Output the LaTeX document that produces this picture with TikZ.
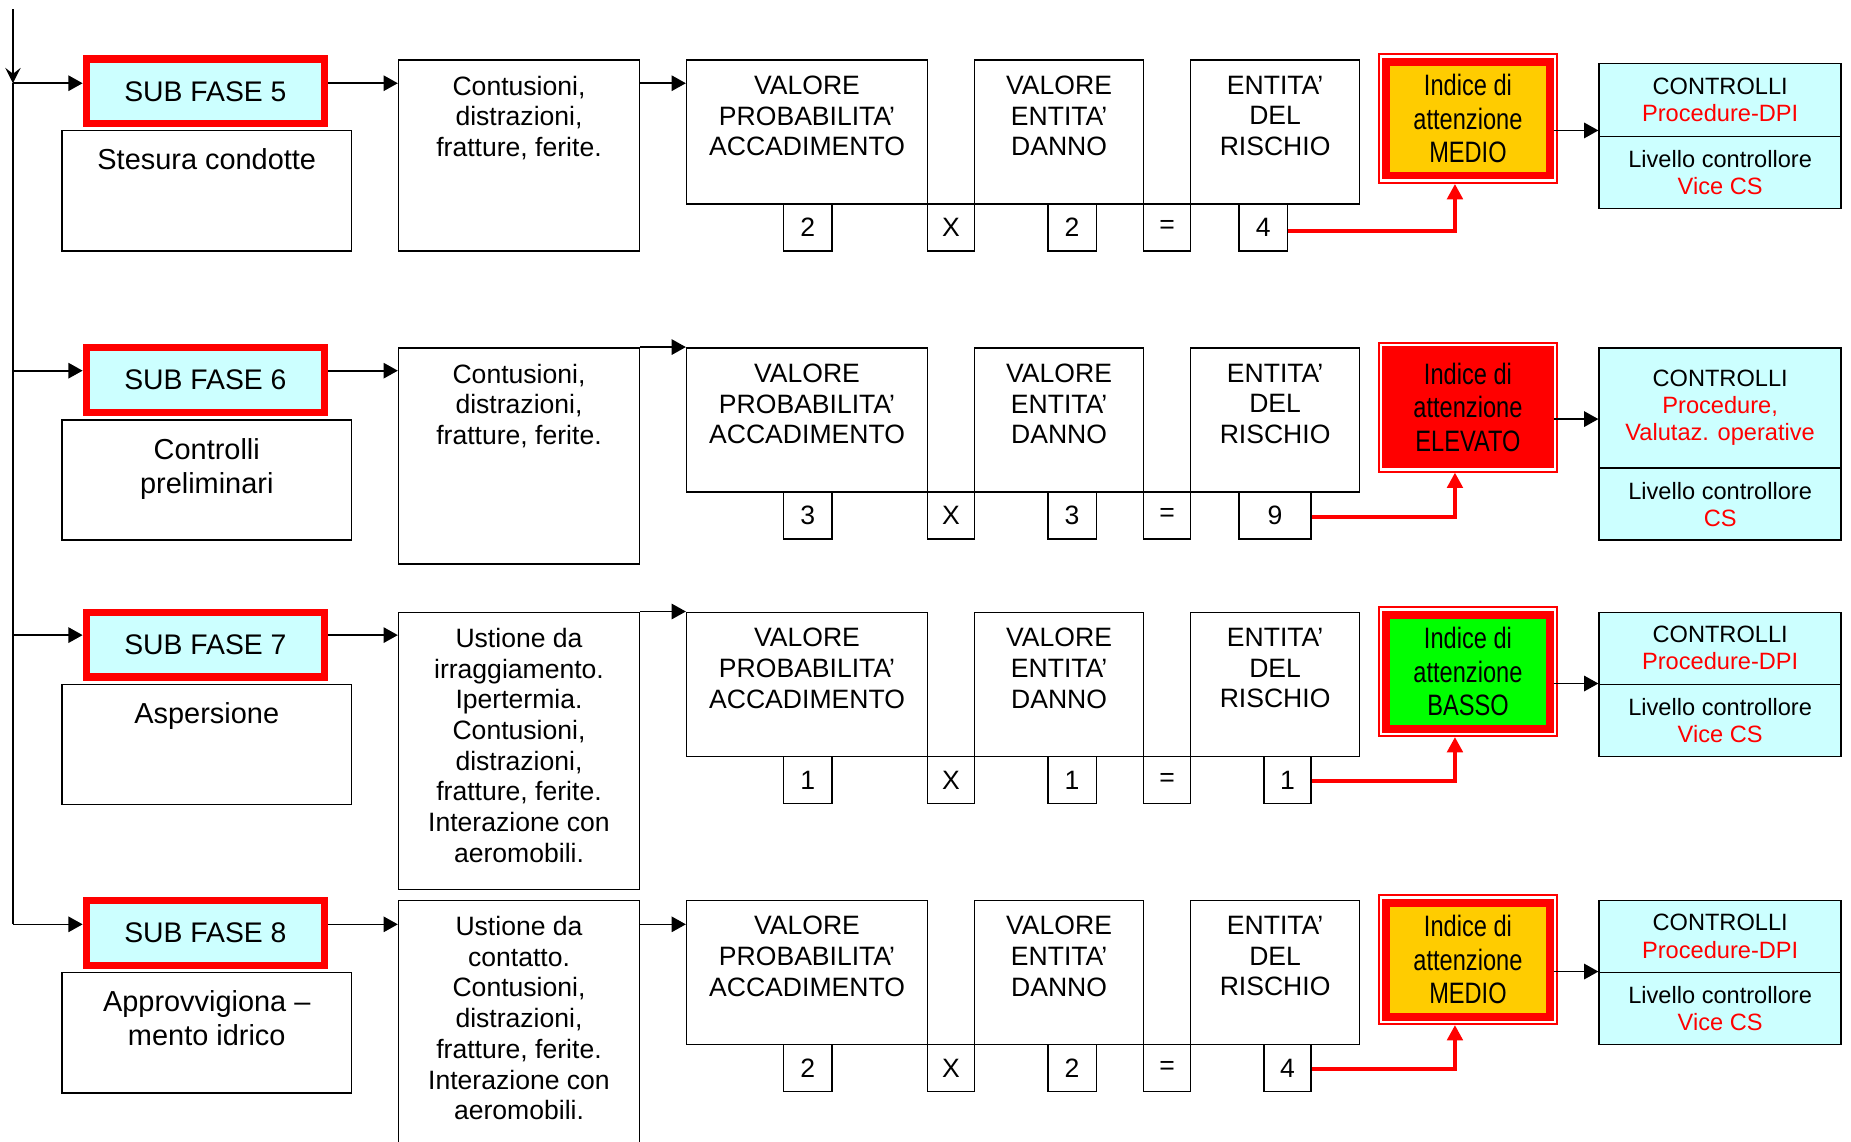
\documentclass[tikz,border=0pt]{standalone}
\usepackage{fontspec}
\setmainfont{Liberation Sans}
\newfontfamily\narrowfont[FakeStretch=0.8]{Liberation Sans}
\usetikzlibrary{arrows.meta,positioning}
\definecolor{lightcyan}{HTML}{CCFFFF}
\definecolor{gold}{HTML}{FFCC00}
\definecolor{brightgreen}{HTML}{00FF00}

\tikzset{
  box/.style={draw, line width=1.3pt, anchor=north west, inner sep=0pt},
  subbox/.style={draw=red, line width=6pt, fill=lightcyan, minimum width=202pt, minimum height=55pt, font=\fontsize{24}{28}\selectfont},
  dtext/.style={anchor=north, align=center, inner sep=0pt, font=\fontsize{24.5}{29}\selectfont},
  htext/.style={anchor=north, align=center, inner sep=0pt, font=\fontsize{22.5}{26}\selectfont},
  numbox/.style={box, minimum width=41pt, minimum height=40pt, font=\fontsize{22.5}{26}\selectfont},
  iframe/.style={draw=red, line width=1.6pt, fill=white, minimum width=151pt, minimum height=109pt},
  ibox/.style={draw=red, line width=6.5pt, minimum width=138.5pt, minimum height=96.5pt, align=center, inner sep=0pt, font=\narrowfont\fontsize{25}{28.5}\selectfont},
  cbox/.style={box, fill=lightcyan, minimum width=205pt, align=center, font=\fontsize{20}{23}\selectfont},
  arr/.style={-{Triangle[length=12pt,width=13pt]}, line width=1.4pt},
  openarr/.style={-{Stealth[length=13pt,width=13pt,inset=5pt]}, line width=1.4pt},
  rline/.style={red, line width=3.5pt, -{Triangle[length=13pt,width=13pt]}}
}

\begin{document}
\begin{tikzpicture}[x=1pt, y=-1pt]
 \useasboundingbox (0,0) rectangle (1568,967);
 \coordinate (top) at (11,8);
 \coordinate (v5) at (11,70.5);
 \coordinate (v6) at (11,314);
 \coordinate (v7) at (11,538);
 \coordinate (v8) at (11,783);
 \draw[openarr] (top) -- (v5);
 \draw[line width=1.4pt] (v5) -- (v8);

 \node[subbox] (sf5) at (174,77.5) {SUB FASE 5};
 \node[box, minimum width=245pt, minimum height=102pt] (d5) at (52,110) {};
 \node[dtext] (d5t) at ([yshift=-16pt]d5.north) {Stesura condotte};
 \node[box, minimum width=204pt, minimum height=162pt] (h5) at (337,50) {};
 \node[htext] (h5t) at ([yshift=-14pt]h5.north) {Contusioni,\\distrazioni,\\fratture, ferite.};
 \node[box, minimum width=204pt, minimum height=122pt] (p5) at (581,50) {};
 \node[htext] (p5t) at ([yshift=-14pt]p5.north) {VALORE\\PROBABILITA’\\ACCADIMENTO};
 \node[box, minimum width=143pt, minimum height=122pt] (e5) at (825,50) {};
 \node[htext] (e5t) at ([yshift=-14pt]e5.north) {VALORE\\ENTITA’\\DANNO};
 \node[box, minimum width=143pt, minimum height=122pt] (r5) at (1008,50) {};
 \node[htext] (r5t) at ([yshift=-14pt]r5.north) {ENTITA’\\DEL\\RISCHIO};
 \node[numbox] (pn5) at (663,172) {2};
 \node[numbox, minimum width=40pt] (x5) at (785,172) {X};
 \node[numbox] (en5) at (887,172) {2};
 \node[numbox, minimum width=40pt] (eq5) at (968,172) {=};
 \node[numbox] (rn5) at (1049,172) {4};
 \node[iframe] (i5f) at (1243.5,100.5) {};
 \node[ibox, fill=gold] (i5) at (i5f.center) {Indice di\\attenzione\\MEDIO};
 \node[cbox, minimum height=62pt] (c5) at (1354,53) {CONTROLLI\\\textcolor{red}{Procedure-DPI}};
 \node[cbox, minimum height=61pt] (l5) at (1354,115) {Livello controllore\\\textcolor{red}{Vice CS}};
 \coordinate (a5) at ([yshift=-10pt]i5.east);
 \draw[arr] (v5) -- (sf5.west |- v5);
 \draw[arr] (sf5.east |- v5) -- (h5.west |- v5);
 \draw[arr] (h5.east |- v5) -- (p5.west |- v5);
 \draw[rline] ([yshift=-3pt]rn5.east) -| ([xshift=-11pt]i5f.south);
 \draw[arr] (a5) -- (a5 -| c5.west);

 \node[subbox] (sf6) at (174,322) {SUB FASE 6};
 \node[box, minimum width=245pt, minimum height=102pt] (d6) at (52,355) {};
 \node[dtext] (d6t) at ([yshift=-16pt]d6.north) {Controlli\\preliminari};
 \node[box, minimum width=204pt, minimum height=183pt] (h6) at (337,294) {};
 \node[htext] (h6t) at ([yshift=-14pt]h6.north) {Contusioni,\\distrazioni,\\fratture, ferite.};
 \node[box, minimum width=204pt, minimum height=122pt] (p6) at (581,294) {};
 \node[htext] (p6t) at ([yshift=-14pt]p6.north) {VALORE\\PROBABILITA’\\ACCADIMENTO};
 \node[box, minimum width=143pt, minimum height=122pt] (e6) at (825,294) {};
 \node[htext] (e6t) at ([yshift=-14pt]e6.north) {VALORE\\ENTITA’\\DANNO};
 \node[box, minimum width=143pt, minimum height=122pt] (r6) at (1008,294) {};
 \node[htext] (r6t) at ([yshift=-14pt]r6.north) {ENTITA’\\DEL\\RISCHIO};
 \node[numbox] (pn6) at (663,416) {3};
 \node[numbox, minimum width=40pt] (x6) at (785,416) {X};
 \node[numbox] (en6) at (887,416) {3};
 \node[numbox, minimum width=40pt] (eq6) at (968,416) {=};
 \node[numbox, minimum width=61pt] (rn6) at (1049,416) {9};
 \node[iframe] (i6f) at (1243.5,345) {};
 \node[ibox, fill=red] (i6) at (i6f.center) {Indice di\\attenzione\\ELEVATO};
 \node[cbox, minimum height=102pt] (c6) at (1354,294) {CONTROLLI\\\textcolor{red}{Procedure,}\\\textcolor{red}{Valutaz. operative}};
 \node[cbox, minimum height=61pt] (l6) at (1354,396) {Livello controllore\\\textcolor{red}{CS}};
 \coordinate (a6) at ([yshift=-10pt]i6.east);
 \draw[arr] (v6) -- (sf6.west |- v6);
 \draw[arr] (sf6.east |- v6) -- (h6.west |- v6);
 \draw[arr] (h6.north east) -- (p6.north west);
 \draw[rline] ([yshift=-1pt]rn6.east) -| ([xshift=-11pt]i6f.south);
 \draw[arr] (a6) -- (a6 -| c6.west);

 \node[subbox] (sf7) at (174,546) {SUB FASE 7};
 \node[box, minimum width=245pt, minimum height=102pt] (d7) at (52,579) {};
 \node[dtext] (d7t) at ([yshift=-16pt]d7.north) {Aspersione};
 \node[box, minimum width=204pt, minimum height=235pt] (h7) at (337,518) {};
 \node[htext] (h7t) at ([yshift=-14pt]h7.north) {Ustione da\\irraggiamento.\\Ipertermia.\\Contusioni,\\distrazioni,\\fratture, ferite.\\Interazione con\\aeromobili.};
 \node[box, minimum width=204pt, minimum height=122pt] (p7) at (581,518) {};
 \node[htext] (p7t) at ([yshift=-14pt]p7.north) {VALORE\\PROBABILITA’\\ACCADIMENTO};
 \node[box, minimum width=143pt, minimum height=122pt] (e7) at (825,518) {};
 \node[htext] (e7t) at ([yshift=-14pt]e7.north) {VALORE\\ENTITA’\\DANNO};
 \node[box, minimum width=143pt, minimum height=122pt] (r7) at (1008,518) {};
 \node[htext] (r7t) at ([yshift=-14pt]r7.north) {ENTITA’\\DEL\\RISCHIO};
 \node[numbox] (pn7) at (663,640) {1};
 \node[numbox, minimum width=40pt] (x7) at (785,640) {X};
 \node[numbox] (en7) at (887,640) {1};
 \node[numbox, minimum width=40pt] (eq7) at (968,640) {=};
 \node[numbox, minimum width=40pt] (rn7) at (1070,640) {1};
 \node[iframe] (i7f) at (1243.5,569) {};
 \node[ibox, fill=brightgreen] (i7) at (i7f.center) {Indice di\\attenzione\\BASSO};
 \node[cbox, minimum height=61pt] (c7) at (1354,518) {CONTROLLI\\\textcolor{red}{Procedure-DPI}};
 \node[cbox, minimum height=61pt] (l7) at (1354,579) {Livello controllore\\\textcolor{red}{Vice CS}};
 \coordinate (a7) at ([yshift=-10pt]i7.east);
 \draw[arr] (v7) -- (sf7.west |- v7);
 \draw[arr] (sf7.east |- v7) -- (h7.west |- v7);
 \draw[arr] (h7.north east) -- (p7.north west);
 \draw[rline] ([yshift=-1pt]rn7.east) -| ([xshift=-11pt]i7f.south);
 \draw[arr] (a7) -- (a7 -| c7.west);

 \node[subbox] (sf8) at (174,790) {SUB FASE 8};
 \node[box, minimum width=245pt, minimum height=102pt] (d8) at (52,823) {};
 \node[dtext] (d8t) at ([yshift=-16pt]d8.north) {Approvvigiona –\\mento idrico};
 \node[box, minimum width=204pt, minimum height=230pt] (h8) at (337,762) {};
 \node[htext] (h8t) at ([yshift=-14pt]h8.north) {Ustione da\\contatto.\\Contusioni,\\distrazioni,\\fratture, ferite.\\Interazione con\\aeromobili.};
 \node[box, minimum width=204pt, minimum height=122pt] (p8) at (581,762) {};
 \node[htext] (p8t) at ([yshift=-14pt]p8.north) {VALORE\\PROBABILITA’\\ACCADIMENTO};
 \node[box, minimum width=143pt, minimum height=122pt] (e8) at (825,762) {};
 \node[htext] (e8t) at ([yshift=-14pt]e8.north) {VALORE\\ENTITA’\\DANNO};
 \node[box, minimum width=143pt, minimum height=122pt] (r8) at (1008,762) {};
 \node[htext] (r8t) at ([yshift=-14pt]r8.north) {ENTITA’\\DEL\\RISCHIO};
 \node[numbox] (pn8) at (663,884) {2};
 \node[numbox, minimum width=40pt] (x8) at (785,884) {X};
 \node[numbox] (en8) at (887,884) {2};
 \node[numbox, minimum width=40pt] (eq8) at (968,884) {=};
 \node[numbox, minimum width=40pt] (rn8) at (1070,884) {4};
 \node[iframe] (i8f) at (1243.5,813) {};
 \node[ibox, fill=gold] (i8) at (i8f.center) {Indice di\\attenzione\\MEDIO};
 \node[cbox, minimum height=61pt] (c8) at (1354,762) {CONTROLLI\\\textcolor{red}{Procedure-DPI}};
 \node[cbox, minimum height=61pt] (l8) at (1354,823) {Livello controllore\\\textcolor{red}{Vice CS}};
 \coordinate (a8) at ([yshift=-10pt]i8.east);
 \draw[arr] (v8) -- (sf8.west |- v8);
 \draw[arr] (sf8.east |- v8) -- (h8.west |- v8);
 \draw[arr] (h8.east |- v8) -- (p8.west |- v8);
 \draw[rline] ([yshift=-1pt]rn8.east) -| ([xshift=-11pt]i8f.south);
 \draw[arr] (a8) -- (a8 -| c8.west);
\end{tikzpicture}
\end{document}
